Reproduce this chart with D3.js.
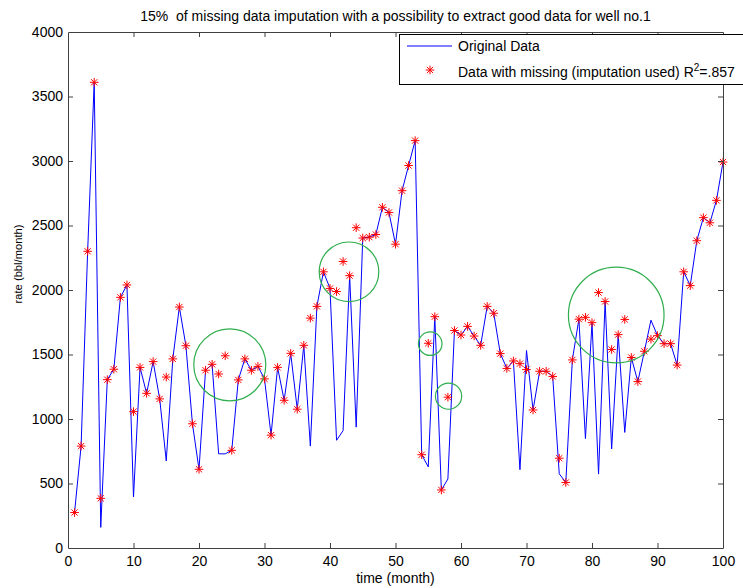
<!DOCTYPE html>
<html>
<head>
<meta charset="utf-8">
<script src="https://cdn.jsdelivr.net/npm/d3@7"></script>
<style>
  html, body { margin: 0; padding: 0; background: #fff; }
  svg { display: block; font-family: "Liberation Sans", Arial, sans-serif; }
</style>
</head>
<body>
<svg id="chart" width="743" height="588"></svg>
<script>
// Month index of each sample
const months = d3.range(1, 101);

// Original monthly rate (bbl/month)
const originalRate = [
  275, 790, 2300, 3610, 160, 1305, 1386, 1943, 2039, 395,
  1400, 1199, 1445, 1156, 675, 1466, 1868, 1568, 963, 610,
  1378, 1424, 730, 730, 757, 1303, 1466, 1378, 1408, 1311,
  875, 1400, 1145, 1509, 1076, 1571, 790, 1873, 2141, 2012,
  835, 910, 2111, 937, 2403, 2410, 2430, 2641, 2601, 2355,
  2770, 2965, 3158, 723, 629, 1793, 450, 535, 1686, 1651,
  1718, 1643, 1571, 1873, 1820, 1507, 1392, 1450, 607, 1531,
  1070, 1370, 1370, 1330, 575, 508, 1458, 1774, 848, 1747,
  573, 1911, 768, 1654, 896, 1477, 1290, 1525, 1766, 1646,
  1584, 1584, 1418, 2141, 2034, 2382, 2561, 2521, 2695, 2992
];

// Rate with 15% missing values filled in by imputation
const imputedRate = [
  275, 790, 2300, 3610, 385, 1305, 1386, 1943, 2039, 1057,
  1400, 1199, 1445, 1156, 1325, 1466, 1868, 1568, 963, 610,
  1378, 1424, 1349, 1490, 757, 1303, 1466, 1378, 1408, 1311,
  875, 1400, 1145, 1509, 1076, 1571, 1782, 1873, 2141, 2012,
  1988, 2221, 2111, 2483, 2403, 2410, 2430, 2641, 2601, 2355,
  2770, 2965, 3158, 723, 1587, 1793, 450, 1169, 1686, 1651,
  1718, 1643, 1571, 1873, 1820, 1507, 1392, 1450, 1429, 1383,
  1070, 1370, 1370, 1330, 696, 508, 1458, 1774, 1788, 1747,
  1980, 1911, 1539, 1654, 1772, 1477, 1290, 1525, 1619, 1646,
  1584, 1584, 1418, 2141, 2034, 2382, 2561, 2521, 2695, 2992
];

// Highlighted regions: centre (month, rate) and radius in months
const circleMonth = [24.7, 42.9, 55.3, 58.1, 83.7];
const circleRate  = [1420, 2141, 1584, 1177, 1806];
const circleRadius = [5.5, 4.55, 1.8, 2.0, 7.3];

// Axis ticks
const xTicks = [0, 10, 20, 30, 40, 50, 60, 70, 80, 90, 100];
const yTicks = [0, 500, 1000, 1500, 2000, 2500, 3000, 3500, 4000];

const titleText = "15%  of missing data imputation with a possibility to extract good data for well no.1";
const xLabel = "time (month)";
const yLabel = "rate (bbl/month)";
const legendOriginal = "Original Data";
const legendImputed = "Data with missing (imputation used) R";
const legendR2 = ".857";

const svg = d3.select("#chart");
const plotLeft = 68, plotRight = 723, plotTop = 32, plotBottom = 548;

const x = d3.scaleLinear().domain([0, 100]).range([plotLeft, plotRight]);
const y = d3.scaleLinear().domain([0, 4000]).range([plotBottom, plotTop]);

const axisColor = "#404040";

// Original data line
const line = d3.line().x((d, i) => x(months[i])).y(d => y(d));
svg.append("path")
  .datum(originalRate)
  .attr("d", line)
  .attr("fill", "none")
  .attr("stroke", "#0000ff")
  .attr("stroke-width", 1)
  .attr("stroke-linejoin", "round");

// Asterisk marker path
function asterisk(cx, cy, r) {
  const d = r * 0.72;
  return `M${cx - r},${cy}H${cx + r}M${cx},${cy - r}V${cy + r}` +
         `M${cx - d},${cy - d}L${cx + d},${cy + d}M${cx - d},${cy + d}L${cx + d},${cy - d}`;
}

svg.append("g")
  .selectAll("path")
  .data(imputedRate)
  .join("path")
  .attr("d", (d, i) => asterisk(x(months[i]), y(d), 4.3))
  .attr("fill", "none")
  .attr("stroke", "#ff0000")
  .attr("stroke-width", 1);

// Highlight circles
svg.append("g")
  .selectAll("circle")
  .data(circleMonth)
  .join("circle")
  .attr("cx", d => x(d))
  .attr("cy", (d, i) => y(circleRate[i]))
  .attr("r", (d, i) => x(circleRadius[i]) - x(0))
  .attr("fill", "none")
  .attr("stroke", "#2fae4e")
  .attr("stroke-width", 1.2);

// Axes (ticks point inward on all four sides)
const fontSize = 14;
const gx = svg.append("g")
  .attr("transform", `translate(0,${plotBottom})`)
  .call(d3.axisBottom(x).tickValues(xTicks).tickFormat(d3.format("d")).tickSizeInner(-5).tickSizeOuter(0).tickPadding(8));
const gy = svg.append("g")
  .attr("transform", `translate(${plotLeft},0)`)
  .call(d3.axisLeft(y).tickValues(yTicks).tickFormat(d3.format("d")).tickSizeInner(-5).tickSizeOuter(0).tickPadding(5));
const gt = svg.append("g")
  .attr("transform", `translate(0,${plotTop})`)
  .call(d3.axisTop(x).tickValues(xTicks).tickFormat("").tickSizeInner(-5).tickSizeOuter(0));
const gr = svg.append("g")
  .attr("transform", `translate(${plotRight},0)`)
  .call(d3.axisRight(y).tickValues(yTicks).tickFormat("").tickSizeInner(-5).tickSizeOuter(0));

[gx, gy, gt, gr].forEach(g => {
  g.selectAll("path.domain").attr("stroke", axisColor);
  g.selectAll(".tick line").attr("stroke", axisColor);
  g.selectAll(".tick text").attr("fill", "#000").attr("font-size", fontSize)
    .attr("font-family", '"Liberation Sans", Arial, sans-serif');
});
// Remove ticks that sit on the frame corners
gt.selectAll(".tick").filter(d => d === 0 || d === 100).select("line").remove();
gr.selectAll(".tick").filter(d => d === 0 || d === 4000).select("line").remove();
gx.selectAll(".tick").filter(d => d === 0 || d === 100).select("line").remove();
gy.selectAll(".tick").filter(d => d === 0 || d === 4000).select("line").remove();

// Title (keeps the double space after the percentage)
svg.append("text")
  .attr("x", (plotLeft + plotRight) / 2)
  .attr("y", 21)
  .attr("text-anchor", "middle")
  .attr("font-size", 14)
  .style("white-space", "pre")
  .text(titleText);

// Axis labels
svg.append("text")
  .attr("x", (plotLeft + plotRight) / 2)
  .attr("y", 583)
  .attr("text-anchor", "middle")
  .attr("font-size", 14)
  .text(xLabel);

svg.append("text")
  .attr("transform", "translate(22,264) rotate(-90)")
  .attr("text-anchor", "middle")
  .attr("font-size", 11.2)
  .text(yLabel);

// Legend
const lg = svg.append("g");
lg.append("rect")
  .attr("x", 399.5).attr("y", 34.5)
  .attr("width", 360).attr("height", 50)
  .attr("fill", "#fff")
  .attr("stroke", "#000")
  .attr("stroke-width", 1);
lg.append("line")
  .attr("x1", 407).attr("x2", 452).attr("y1", 46).attr("y2", 46)
  .attr("stroke", "#0000ff").attr("stroke-width", 1);
lg.append("text")
  .attr("x", 458).attr("y", 51)
  .attr("font-size", 14)
  .text(legendOriginal);
lg.append("path")
  .attr("d", asterisk(430, 70, 4.3))
  .attr("fill", "none").attr("stroke", "#ff0000").attr("stroke-width", 1);
const t2 = lg.append("text")
  .attr("x", 458).attr("y", 76.5)
  .attr("font-size", 14);
t2.append("tspan").text(legendImputed);
t2.append("tspan").attr("dy", -6).attr("font-size", 10).text("2");
t2.append("tspan").attr("dy", 6).text("=" + legendR2);
</script>
</body>
</html>
